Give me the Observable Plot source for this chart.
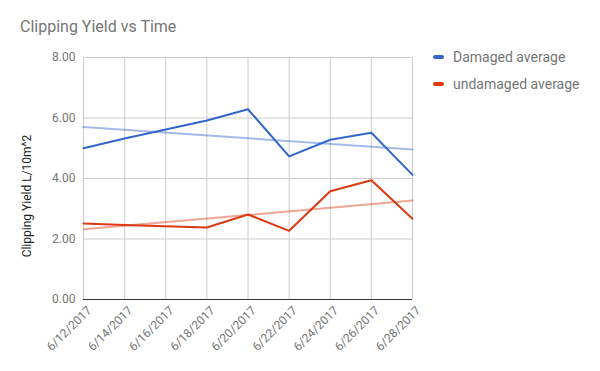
<!DOCTYPE html>
<html><head><meta charset="utf-8">
<script src="https://cdn.jsdelivr.net/npm/d3@7"></script>
<script src="https://cdn.jsdelivr.net/npm/@observablehq/plot@0.6"></script>
<style>
body{margin:0;background:#fff;font-family:Roboto,sans-serif}
#wrap{position:relative;width:600px;height:371px}
#title{position:absolute;left:20px;top:17px;font-size:16px;color:#757575;white-space:nowrap}
#ylab{position:absolute;left:27px;top:196px;font-size:12px;color:#222;white-space:nowrap;transform:translate(-50%,-50%) rotate(-90deg)}
.leg{position:absolute;left:433px;font-size:14px;color:#757575;white-space:nowrap;display:flex;align-items:center}
.sw{display:inline-block;width:11px;height:4px;border-radius:2px;margin-right:9px}
#chart{position:absolute;left:0;top:0}
</style></head><body>
<div id="wrap">
<div id="chart"></div>
<div id="title">Clipping Yield vs Time</div>
<div id="ylab">Clipping Yield L/10m^2</div>
<div class="leg" style="top:49px"><span class="sw" style="background:#3366cc"></span>Damaged average</div>
<div class="leg" style="top:76px"><span class="sw" style="background:#dc3912"></span>undamaged average</div>
</div>
<script>
const dates = ["2017-06-12","2017-06-14","2017-06-18","2017-06-20","2017-06-22","2017-06-24","2017-06-26","2017-06-28"];
const damaged = [5.0,5.32,5.92,6.29,4.73,5.28,5.51,4.12];
const undamaged = [2.51,2.46,2.38,2.81,2.27,3.58,3.94,2.67];
const trendDates = ["2017-06-12","2017-06-28"];
const damagedTrend = [5.70,4.96];
const undamagedTrend = [2.32,3.27];
const yTicks = [0,2,4,6,8];
const xTickLabels = ["2017-06-12","2017-06-14","2017-06-16","2017-06-18","2017-06-20","2017-06-22","2017-06-24","2017-06-26","2017-06-28"];

const parse = d3.utcParse("%Y-%m-%d");
const fmt = d3.utcFormat("%-m/%-d/%Y");
const xt = xTickLabels.map(parse);
const dmg = dates.map((d,i)=>({date:parse(d),v:damaged[i]}));
const und = dates.map((d,i)=>({date:parse(d),v:undamaged[i]}));
const dT = trendDates.map((d,i)=>({date:parse(d),v:damagedTrend[i]}));
const uT = trendDates.map((d,i)=>({date:parse(d),v:undamagedTrend[i]}));

const chart = Plot.plot({
  width:600, height:371,
  marginLeft:83, marginRight:188, marginTop:57, marginBottom:72,
  style:{fontFamily:"Roboto, sans-serif", fontSize:"12px", background:"transparent"},
  x:{type:"utc", domain:[xt[0], xt[xt.length-1]]},
  y:{domain:[0,8]},
  marks:[
    Plot.gridX(xt,{stroke:"#cccccc",strokeOpacity:1}),
    Plot.gridY(yTicks,{stroke:"#cccccc",strokeOpacity:1}),
    Plot.axisY(yTicks,{tickSize:0,tickPadding:8,tickFormat:d=>d.toFixed(2),fill:"#757575",label:null}),
    Plot.axisX(xt,{tickSize:0,tickPadding:6,tickRotate:-45,tickFormat:fmt,fill:"#757575",label:null,dx:6,dy:3}),
    Plot.ruleY([0],{stroke:"#333333"}),
    Plot.line(dT,{x:"date",y:"v",stroke:"#3366cc",strokeOpacity:0.45,strokeWidth:2}),
    Plot.line(uT,{x:"date",y:"v",stroke:"#dc3912",strokeOpacity:0.45,strokeWidth:2}),
    Plot.line(dmg,{x:"date",y:"v",stroke:"#3366cc",strokeWidth:2}),
    Plot.line(und,{x:"date",y:"v",stroke:"#dc3912",strokeWidth:2})
  ]
});
document.getElementById("chart").appendChild(chart);
</script>
</body></html>
